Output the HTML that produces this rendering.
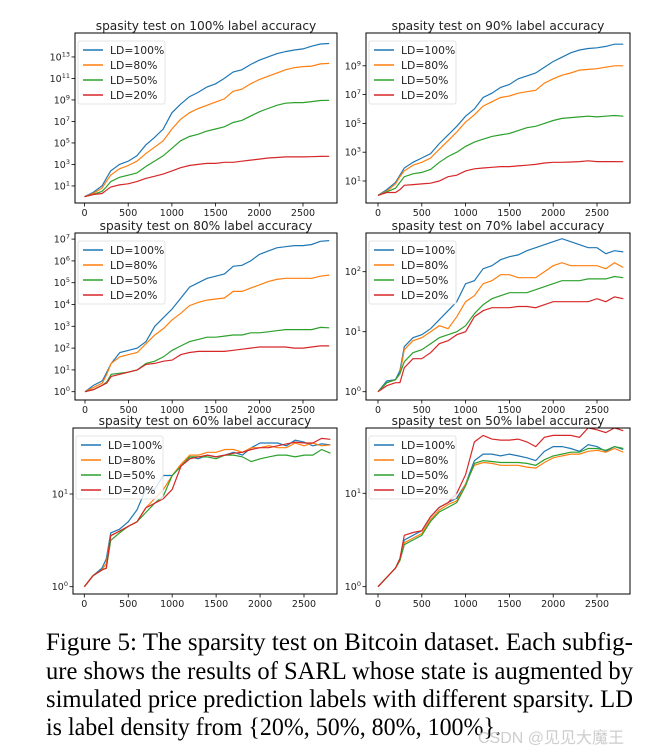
<!DOCTYPE html>
<html><head><meta charset="utf-8"><style>
html,body{margin:0;padding:0;background:#fff;}
svg{display:block;}
</style></head><body>
<svg id="fig" width="652" height="752" viewBox="0 0 652 752" xmlns="http://www.w3.org/2000/svg">
<g id="panels"></g>
<g font-family="'Liberation Serif', serif" font-size="25" fill="#000">
<text x="46" y="650" textLength="587" lengthAdjust="spacingAndGlyphs">Figure 5: The sparsity test on Bitcoin dataset. Each subfig-</text>
<text x="46" y="679" textLength="587" lengthAdjust="spacingAndGlyphs">ure shows the results of SARL whose state is augmented by</text>
<text x="46" y="707" textLength="587" lengthAdjust="spacingAndGlyphs">simulated price prediction labels with different sparsity. LD</text>
<text x="46" y="735" textLength="455" lengthAdjust="spacingAndGlyphs">is label density from {20%, 50%, 80%, 100%}.</text>
</g>
<text x="478" y="743" font-family="'Liberation Sans','Noto Sans CJK SC',sans-serif" font-size="16" fill="#c8c8c8" fill-opacity="0.9">CSDN @见见大魔王</text>
</svg>
<script>
const xs=[0,100,200,250,300,400,500,600,700,800,900,1000,1100,1200,1300,1400,1500,1600,1700,1800,1900,2000,2100,2200,2300,2400,2500,2600,2700,2800];
const seriesNames=["LD=100%","LD=80%","LD=50%","LD=20%"];
const colors=["#1f77b4","#ff7f0e","#2ca02c","#d62728"];
const titles=["spasity test on 100% label accuracy","spasity test on 90% label accuracy","spasity test on 80% label accuracy","spasity test on 70% label accuracy","spasity test on 60% label accuracy","spasity test on 50% label accuracy"];
const xTicks=[0,500,1000,1500,2000,2500];
// log10 values
const p1=[
[0,0.4,1.0,1.7,2.4,3.0,3.3,3.8,4.8,5.5,6.3,7.8,8.6,9.3,9.7,10.2,10.5,11.0,11.6,11.8,12.3,12.7,13.0,13.3,13.5,13.65,13.75,14.0,14.2,14.25],
[0,0.3,0.8,1.4,2.0,2.6,2.9,3.3,4.0,4.6,5.2,6.3,7.2,7.8,8.2,8.5,8.8,9.1,9.8,10.0,10.5,10.9,11.2,11.5,11.8,12.0,12.1,12.15,12.35,12.4],
[0,0.2,0.5,0.9,1.4,1.8,2.0,2.2,2.8,3.3,3.8,4.5,5.2,5.6,5.8,6.1,6.3,6.5,6.9,7.1,7.5,7.9,8.2,8.5,8.7,8.75,8.75,8.85,8.95,8.97],
[0,0.2,0.3,0.6,0.9,1.1,1.2,1.4,1.7,1.9,2.1,2.4,2.7,2.9,3.0,3.1,3.1,3.2,3.2,3.3,3.4,3.5,3.6,3.65,3.7,3.7,3.7,3.72,3.75,3.76]];
const p2=[
[0,0.4,0.9,1.4,1.9,2.3,2.6,2.9,3.6,4.2,4.8,5.5,6.0,6.8,7.1,7.5,7.7,8.1,8.3,8.5,8.9,9.3,9.6,9.9,10.1,10.2,10.25,10.35,10.5,10.5],
[0,0.3,0.8,1.3,1.7,2.1,2.3,2.6,3.2,3.8,4.4,5.1,5.6,6.2,6.5,6.8,6.9,7.1,7.2,7.3,7.8,8.1,8.35,8.5,8.7,8.75,8.8,8.9,9.0,9.0],
[0,0.25,0.5,0.9,1.3,1.5,1.6,1.8,2.3,2.7,3.0,3.4,3.7,3.9,4.1,4.2,4.3,4.5,4.7,4.8,5.0,5.2,5.35,5.4,5.45,5.5,5.45,5.5,5.55,5.5],
[0,0.2,0.2,0.4,0.7,0.75,0.8,0.85,1.0,1.3,1.4,1.7,1.85,1.9,1.95,2.0,2.0,2.05,2.1,2.15,2.25,2.3,2.3,2.32,2.35,2.4,2.35,2.35,2.35,2.34]];
const p3=[
[0,0.3,0.5,0.9,1.3,1.8,1.9,2.0,2.3,3.0,3.4,3.8,4.3,4.8,5.0,5.2,5.3,5.4,5.75,5.8,6.0,6.3,6.45,6.6,6.65,6.7,6.7,6.75,6.9,6.93],
[0,0.2,0.4,0.8,1.3,1.6,1.7,1.8,2.2,2.6,2.9,3.3,3.6,3.95,4.1,4.2,4.25,4.3,4.6,4.6,4.75,4.9,5.05,5.15,5.2,5.2,5.2,5.2,5.3,5.35],
[0,0.1,0.3,0.45,0.8,0.85,0.9,1.0,1.3,1.4,1.6,1.9,2.1,2.3,2.4,2.5,2.5,2.55,2.6,2.6,2.7,2.7,2.75,2.8,2.85,2.85,2.85,2.85,2.95,2.93],
[0,0.1,0.3,0.4,0.7,0.8,0.9,1.0,1.25,1.3,1.4,1.45,1.7,1.8,1.85,1.85,1.85,1.85,1.9,1.95,2.0,2.05,2.05,2.05,2.05,2.0,2.0,2.05,2.1,2.1]];
const p4=[
[0,0.18,0.2,0.35,0.75,0.9,0.95,1.05,1.2,1.35,1.5,1.8,1.85,2.05,2.1,2.2,2.25,2.28,2.35,2.4,2.45,2.5,2.55,2.5,2.45,2.4,2.4,2.3,2.35,2.33],
[0,0.15,0.2,0.3,0.7,0.85,0.9,1.0,1.1,1.05,1.25,1.5,1.6,1.8,1.85,1.95,1.95,1.9,1.9,1.9,2.0,2.1,2.15,2.1,2.1,2.1,2.1,2.05,2.15,2.07],
[0,0.15,0.2,0.3,0.5,0.65,0.7,0.8,0.9,0.95,1.0,1.1,1.3,1.45,1.55,1.6,1.65,1.65,1.65,1.7,1.75,1.8,1.85,1.85,1.85,1.88,1.88,1.88,1.92,1.9],
[0,0.1,0.15,0.15,0.4,0.55,0.55,0.65,0.8,0.85,0.95,1.0,1.25,1.35,1.4,1.4,1.4,1.42,1.42,1.4,1.45,1.5,1.5,1.5,1.5,1.5,1.55,1.5,1.58,1.55]];
const p5=[
[0,0.12,0.2,0.3,0.58,0.62,0.7,0.83,1.05,1.05,1.2,1.2,1.3,1.4,1.38,1.42,1.4,1.42,1.45,1.42,1.5,1.55,1.55,1.55,1.52,1.58,1.56,1.52,1.54,1.53],
[0,0.12,0.18,0.25,0.55,0.6,0.65,0.7,0.85,0.95,1.05,1.2,1.32,1.42,1.42,1.45,1.45,1.48,1.48,1.45,1.5,1.5,1.52,1.5,1.5,1.55,1.52,1.55,1.52,1.53],
[0,0.12,0.18,0.2,0.5,0.58,0.65,0.7,0.8,0.9,0.98,1.2,1.3,1.4,1.4,1.4,1.38,1.42,1.42,1.4,1.35,1.38,1.4,1.42,1.42,1.4,1.42,1.42,1.48,1.44],
[0,0.12,0.18,0.2,0.55,0.6,0.65,0.7,0.85,0.9,0.95,1.05,1.3,1.38,1.4,1.42,1.4,1.42,1.44,1.45,1.48,1.5,1.5,1.52,1.54,1.56,1.55,1.55,1.6,1.59]];
const p6=[
[0,0.1,0.2,0.3,0.5,0.55,0.6,0.75,0.85,0.9,0.95,1.1,1.35,1.42,1.42,1.4,1.42,1.4,1.38,1.35,1.45,1.5,1.5,1.48,1.45,1.52,1.5,1.45,1.5,1.47],
[0,0.1,0.2,0.28,0.47,0.52,0.57,0.72,0.82,0.88,0.92,1.1,1.3,1.33,1.32,1.3,1.3,1.3,1.28,1.27,1.33,1.38,1.4,1.42,1.42,1.45,1.46,1.44,1.48,1.44],
[0,0.1,0.2,0.28,0.45,0.5,0.55,0.7,0.8,0.85,0.9,1.08,1.32,1.35,1.34,1.33,1.33,1.33,1.32,1.3,1.36,1.4,1.42,1.44,1.44,1.48,1.48,1.46,1.5,1.48],
[0,0.1,0.2,0.3,0.55,0.58,0.6,0.75,0.85,0.9,1.0,1.2,1.55,1.62,1.58,1.57,1.57,1.58,1.55,1.5,1.6,1.62,1.62,1.62,1.6,1.7,1.68,1.65,1.7,1.67]];
const yTicks1=[1,3,5,7,9,11,13];
const yTicks2=[1,3,5,7,9];
const yTicks3=[0,1,2,3,4,5,6,7];
const yTicks4=[0,1,2];
const yTicks56=[0,1];

const NS="http://www.w3.org/2000/svg";
const root=document.getElementById('panels');
function mk(tag,attrs,parent){const e=document.createElementNS(NS,tag);for(const k in attrs)e.setAttribute(k,attrs[k]);parent.appendChild(e);return e;}
const panels=[
 {data:p1,ticks:yTicks1,l:75,r:337,t:33,b:203,x0:84.5,x2500:303,y0:196.7,pd:10.75},
 {data:p2,ticks:yTicks2,l:366,r:630,t:33,b:203,x0:378,x2500:597,y0:195.4,pd:14.4},
 {data:p3,ticks:yTicks3,l:75,r:337,t:233,b:400,x0:85,x2500:303,y0:391.7,pd:21.8},
 {data:p4,ticks:yTicks4,l:366,r:630,t:233,b:400,x0:378,x2500:597,y0:391.7,pd:60},
 {data:p5,ticks:yTicks56,l:73,r:337,t:428,b:594,x0:84.3,x2500:304,y0:586.7,pd:92.7},
 {data:p6,ticks:yTicks56,l:366,r:630,t:428,b:594,x0:378,x2500:597,y0:586.7,pd:93.4}];
panels.forEach((P,i)=>{
 const xS=v=>P.x0+(P.x2500-P.x0)*v/2500;
 const yS=v=>P.y0-P.pd*v;
 const g=mk('g',{},root);
 
 
 const tt=mk('text',{x:(P.l+P.r)/2,y:P.t-3,'text-anchor':'middle','font-family':'DejaVu Sans, sans-serif','font-size':'12.2',fill:'#222'},g);
 tt.textContent=titles[i];
 
 
 const clipId='c'+i;
 const cp=mk('clipPath',{id:clipId},g);mk('rect',{x:P.l,y:P.t,width:P.r-P.l,height:P.b-P.t},cp);
 P.data.forEach((s,k)=>{
  const d=s.map((v,j)=>(j?'L':'M')+xS(xs[j]).toFixed(1)+','+yS(v).toFixed(1)).join('');
  const pth=mk('path',{d:d,fill:'none',stroke:colors[k],'stroke-width':'1.2','clip-path':'url(#'+clipId+')'},g);
  
  
 });
 const fr=mk('rect',{x:P.l,y:P.t,width:P.r-P.l,height:P.b-P.t,fill:'none',stroke:'#000','stroke-width':'1'},g);
 
 
 xTicks.forEach(v=>{
  const x=xS(v);
  mk('line',{x1:x,x2:x,y1:P.b,y2:P.b+3.5,stroke:'#000','stroke-width':'0.8'},g);
  const t=mk('text',{x:x,y:P.b+13,'text-anchor':'middle','font-family':'DejaVu Sans, sans-serif','font-size':'9.5',fill:'#222'},g);
  t.textContent=v;
  
  
 });
 P.ticks.forEach(v=>{
  const y=yS(v);
  mk('line',{x1:P.l-3.5,x2:P.l,y1:y,y2:y,stroke:'#000','stroke-width':'0.8'},g);
  const t=mk('text',{x:P.l-5,y:y+3.5,'text-anchor':'end','font-family':'DejaVu Sans, sans-serif','font-size':'9.5',fill:'#222'},g);
  
  
  const a=mk('tspan',{},t);a.textContent='10';
  const b=mk('tspan',{dy:'-4','font-size':'6.5'},t);b.textContent=v;
 });
 const lg=mk('g',{},g);
 
 
 const lx=P.l+3, ly=P.t+9;
 mk('rect',{x:lx,y:ly-1,width:87,height:63,rx:2,fill:'#fff','fill-opacity':'0.8',stroke:'#ddd','stroke-width':'0.8'},lg);
 seriesNames.forEach((n,k)=>{
  const yy=ly+8+k*15;
  mk('line',{x1:lx+5,x2:lx+25,y1:yy,y2:yy,stroke:colors[k],'stroke-width':'1.4'},lg);
  const t=mk('text',{x:lx+32,y:yy+4,'font-family':'DejaVu Sans, sans-serif','font-size':'10.8',fill:'#222'},lg);
  t.textContent=n;
  
  
 });
});
</script>
</body></html>
